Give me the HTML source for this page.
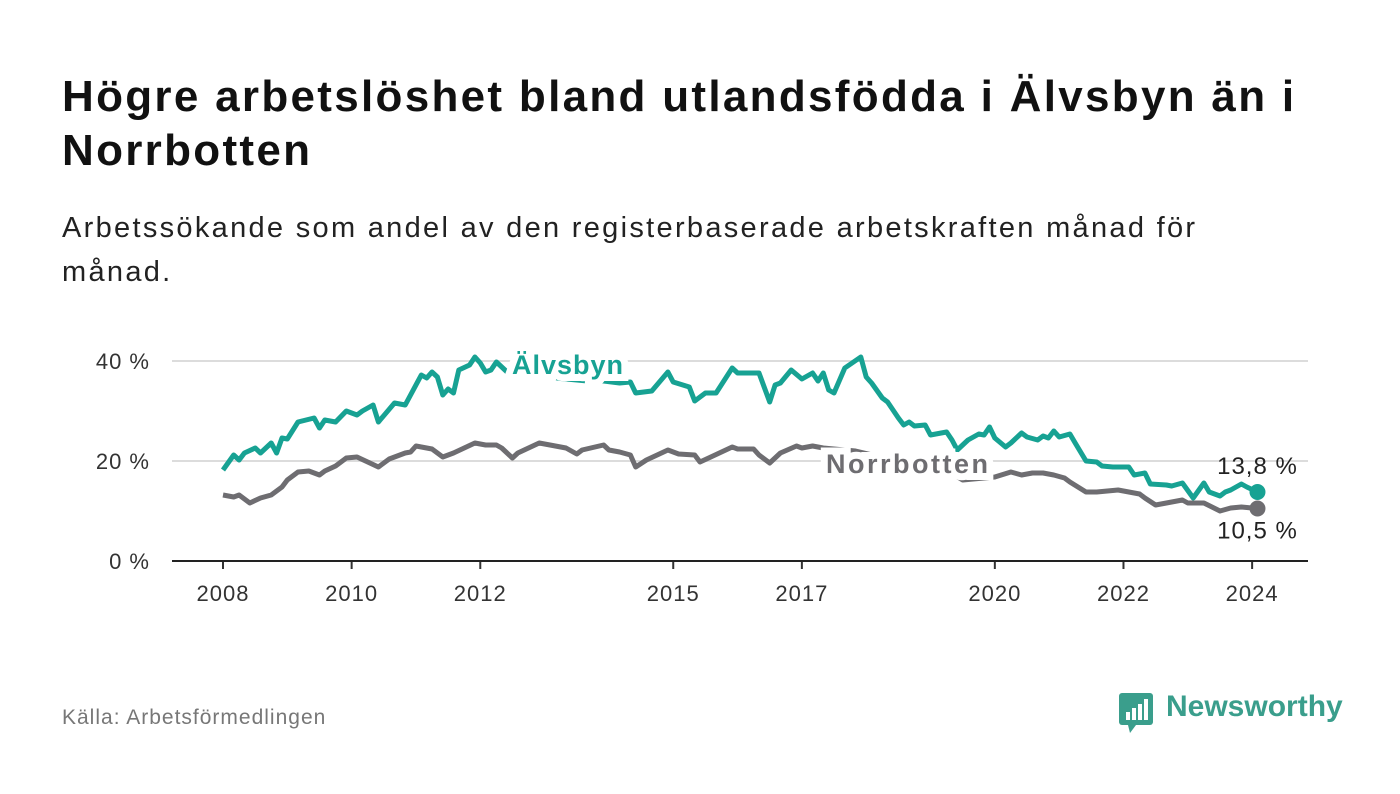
<!DOCTYPE html>
<html><head><meta charset="utf-8">
<style>
body{margin:0;width:1400px;height:794px;background:#fff;font-family:"Liberation Sans",sans-serif;overflow:hidden}
#title{position:absolute;left:62px;top:70px;font-size:44px;font-weight:bold;line-height:54px;color:#111;width:1300px;letter-spacing:2.3px}
#sub{position:absolute;left:62px;top:206px;font-size:29px;line-height:44px;color:#222;width:1200px;letter-spacing:2.3px}
#src{position:absolute;left:62px;top:706px;font-size:21px;color:#777;letter-spacing:1px}
#logo{position:absolute;left:1118px;top:690px;font-size:30px;font-weight:bold;color:#3a9e8c}
svg{position:absolute;left:0;top:0}
</style></head><body>
<div id="title">Högre arbetslöshet bland utlandsfödda i Älvsbyn än i Norrbotten</div>
<div id="sub">Arbetssökande som andel av den registerbaserade arbetskraften månad för månad.</div>
<div id="src">Källa: Arbetsförmedlingen</div>
<div id="logo"><svg width="36" height="44" style="position:absolute;left:0;top:0"><rect x="1" y="3" width="34" height="32" rx="3" fill="#3a9e8c"/><polygon points="10,35 18,35 12,43" fill="#3a9e8c"/><rect x="8" y="22" width="4" height="8" fill="#fff"/><rect x="14" y="18" width="4" height="12" fill="#fff"/><rect x="20" y="14" width="4" height="16" fill="#fff"/><rect x="26" y="9" width="4" height="21" fill="#fff"/></svg><span style="margin-left:48px">Newsworthy</span></div>
<svg id="chart" width="1400" height="794"></svg>
<script>
const yTicks=[0,20,40];
const yTickLabels=["0 %","20 %","40 %"];
const xTickYears=[2008,2010,2012,2015,2017,2020,2022,2024];
const alvMonths=[0,2,3,4,6,7,9,10,11,12,14,17,18,19,21,23,25,26,28,29,32,34,37,38,39,40,41,42,43,44,46,47,48,49,50,51,53,57,63,68,71,74,76,77,80,83,84,87,88,90,92,95,96,99,100,102,103,104,106,108,110,111,112,113,114,116,119,120,121,123,124,126,127,128,129,131,132,134,135,136,137,139,141,142,143,144,146,147,149,150,152,153,154,155,156,158,159,161,163,164,166,169,170,172,173,176,177,179,181,183,184,186,187,188,190,191,193];
const alvValues=[18.2,21.2,20.2,21.6,22.6,21.6,23.6,21.6,24.6,24.4,27.8,28.6,26.6,28.2,27.8,30,29.2,30,31.2,27.8,31.6,31.2,37.2,36.6,37.8,36.8,33.2,34.4,33.6,38.2,39.2,40.8,39.6,37.8,38.2,39.8,37.8,37.5,36.5,36,36,35.6,35.8,33.6,34,37.8,35.8,34.8,32,33.6,33.6,38.6,37.6,37.6,37.6,31.8,35.2,35.6,38.2,36.4,37.6,36,37.6,34.2,33.6,38.6,40.8,36.8,35.6,32.6,31.8,28.6,27.2,27.8,27,27.2,25.2,25.6,25.8,24.2,22.2,24.2,25.4,25.2,26.8,24.6,22.8,23.6,25.6,24.8,24.2,25,24.6,26,24.8,25.4,23.6,20,19.8,19,18.8,18.8,17.2,17.6,15.4,15.2,15,15.6,12.6,15.6,13.8,13,13.8,14.2,15.4,14.8,13.8];
const norMonths=[0,2,3,5,7,9,11,12,14,16,18,19,21,23,25,27,29,31,34,35,36,39,41,43,47,49,51,52,54,55,59,61,64,66,67,71,72,74,76,77,79,83,85,88,89,91,95,96,99,100,102,104,107,108,110,112,118,124,130,136,138,144,147,149,151,153,155,157,158,161,163,167,171,172,174,176,179,180,183,186,188,190,193];
const norValues=[13.2,12.8,13.2,11.6,12.6,13.2,14.8,16.2,17.8,18,17.2,18,19,20.6,20.8,19.8,18.8,20.4,21.6,21.8,23,22.4,20.8,21.6,23.6,23.2,23.2,22.6,20.6,21.6,23.6,23.2,22.6,21.4,22.2,23.2,22.2,21.8,21.2,18.8,20.2,22.2,21.4,21.2,19.8,20.8,22.8,22.4,22.4,21.2,19.6,21.6,23,22.6,23,22.6,22,20.5,19,17.5,16.2,16.8,17.8,17.2,17.6,17.6,17.2,16.6,15.8,13.8,13.8,14.2,13.4,12.6,11.2,11.6,12.2,11.6,11.6,10,10.6,10.8,10.5];
const NS="http://www.w3.org/2000/svg";
const svg=document.getElementById('chart');
const X0=223,PXM=5.36,Y0=561,PXP=5;
function xs(m){return X0+m*PXM;}
function ys(v){return Y0-v*PXP;}
function mk(t,a){const e=document.createElementNS(NS,t);for(const k in a)e.setAttribute(k,a[k]);svg.appendChild(e);return e;}
yTicks.forEach((v,i)=>{
  if(v>0){const g=mk('line',{x1:172,x2:1308,y1:ys(v),y2:ys(v),stroke:'#dcdcdc','stroke-width':2});
  
  }
  const t=mk('text',{x:150,y:ys(v)+8,'text-anchor':'end','font-size':22,fill:'#333','letter-spacing':1});
  t.textContent=yTickLabels[i];
  
  
});
xTickYears.forEach(y=>{
  const x=xs((y-2008)*12);
  const tk=mk('line',{x1:x,x2:x,y1:Y0,y2:Y0+8,stroke:'#333','stroke-width':2});
  
  
  const t=mk('text',{x:x,y:601,'text-anchor':'middle','font-size':22,fill:'#333','letter-spacing':1});
  t.textContent=y;
  
  
});
function path(ms,vs){return ms.map((m,i)=>(i?'L':'M')+xs(m).toFixed(1)+','+ys(vs[i]).toFixed(1)).join('');}
const ln=mk('path',{d:path(norMonths,norValues),fill:'none',stroke:'#6e6d71','stroke-width':5,'stroke-linejoin':'round'});


const la=mk('path',{d:path(alvMonths,alvValues),fill:'none',stroke:'#17a293','stroke-width':5,'stroke-linejoin':'round'});


const ax=mk('line',{x1:172,x2:1308,y1:Y0,y2:Y0,stroke:'#222','stroke-width':2});


const l1=mk('text',{x:512,y:374,'font-size':27,'font-weight':'bold',fill:'#17a293',stroke:'#fff','stroke-width':14,'paint-order':'stroke','letter-spacing':1});
l1.textContent='Älvsbyn';


const l2=mk('text',{x:826,y:473,'font-size':27,'font-weight':'bold',fill:'#6e6d71',stroke:'#fff','stroke-width':14,'paint-order':'stroke','letter-spacing':2.5});
l2.textContent='Norrbotten';


const la2=alvMonths.length-1,ln2=norMonths.length-1;
const d1=mk('circle',{cx:xs(alvMonths[la2]),cy:ys(alvValues[la2]),r:8,fill:'#17a293'});


const d2=mk('circle',{cx:xs(norMonths[ln2]),cy:ys(norValues[ln2]),r:8,fill:'#6e6d71'});


const v1=mk('text',{x:xs(alvMonths[la2]),y:ys(alvValues[la2])-18,'text-anchor':'middle','font-size':24,fill:'#222','letter-spacing':1});
v1.textContent=alvValues[la2].toFixed(1).replace('.',',')+' %';


const v2=mk('text',{x:xs(norMonths[ln2]),y:ys(norValues[ln2])+30,'text-anchor':'middle','font-size':24,fill:'#222','letter-spacing':1});
v2.textContent=norValues[ln2].toFixed(1).replace('.',',')+' %';


</script>
</body></html>
